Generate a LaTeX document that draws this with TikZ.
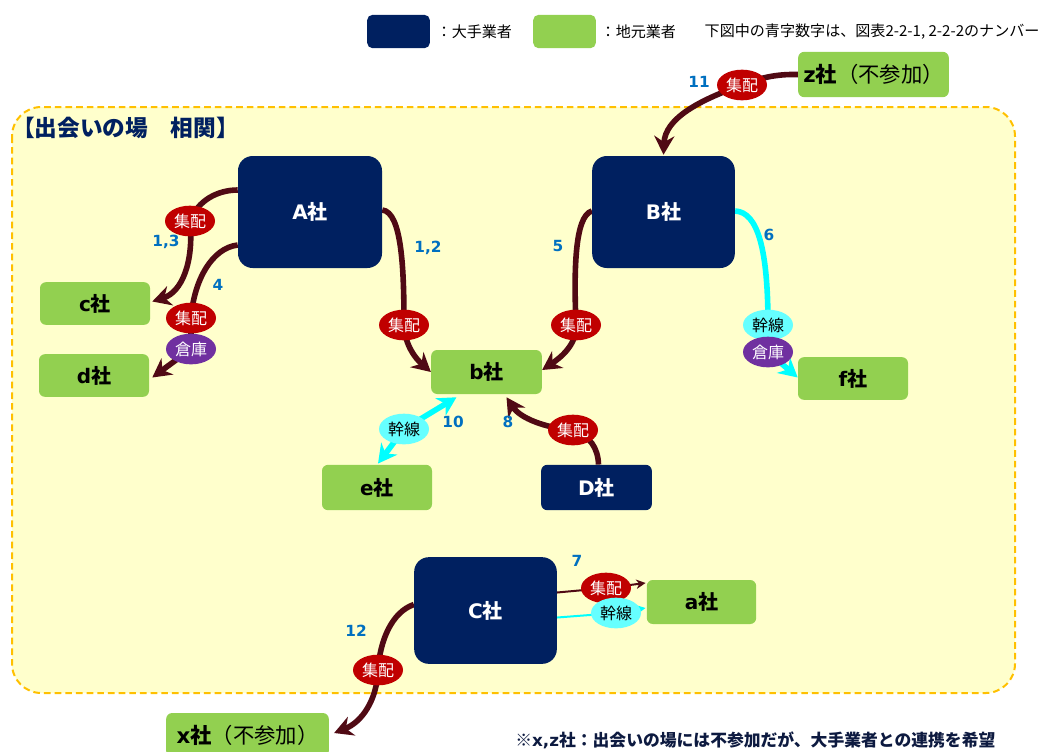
\documentclass[tikz,border=0pt]{standalone}
\usepackage{fontspec}
\setmainfont{Noto Sans CJK JP}
\newfontfamily\lat{DejaVu Sans}
\usetikzlibrary{arrows.meta,calc,shapes.geometric}
\pgfdeclarelayer{back}\pgfdeclarelayer{bg}\pgfsetlayers{back,bg,main}
\definecolor{navy}{HTML}{002060}
\definecolor{lgreen}{HTML}{92D050}
\definecolor{redE}{HTML}{C00000}
\definecolor{cyanE}{HTML}{66FFFF}
\definecolor{cyanL}{HTML}{00FFFF}
\definecolor{purpE}{HTML}{7030A0}
\definecolor{maroon}{HTML}{500A14}
\definecolor{numblue}{HTML}{0070C0}
\definecolor{yellowbg}{HTML}{FFFFCC}
\definecolor{orangeD}{HTML}{FFC000}
\definecolor{notec}{HTML}{0D1A40}
\tikzset{
  big/.style={fill=navy, rounded corners=11pt, text=white, inner sep=0pt,
    font=\bfseries\fontsize{15}{18}\selectfont},
  small/.style={fill=lgreen, rounded corners=4.5pt, text=black, inner sep=0pt,
    font=\bfseries\fontsize{15}{18}\selectfont},
  shu/.style={ellipse, fill=redE, minimum width=37.5pt, minimum height=23pt,
    inner sep=0pt, text=white, font=\fontsize{12}{14}\selectfont},
  kan/.style={shu, fill=cyanE, text=black},
  soko/.style={shu, fill=purpE, text=white},
  num/.style={text=numblue, font=\lat\bfseries\fontsize{11.5}{13}\selectfont},
  conn/.style={draw=maroon, line width=4.2pt,
    -{Stealth[length=14pt,width=15pt]}},
  cy/.style={draw=cyanL, line width=4.2pt, color=cyanL,
    -{Stealth[length=14pt,width=15pt]}},
  thinconn/.style={draw=maroon, line width=1.5pt,
    -{Stealth[length=7pt,width=7pt]}},
  thincy/.style={draw=cyanL, line width=1.5pt, color=cyanL,
    -{Stealth[length=7pt,width=7pt]}},
  legtext/.style={anchor=west, text=black, font=\fontsize{11.3}{13}\selectfont}
}
\begin{document}
\begin{tikzpicture}[x=0.75pt,y=-0.75pt]
\useasboundingbox (0,0) rectangle (1045,751);
\clip (0,0) rectangle (1045,751);

% legend
\node[fill=navy, rounded corners=4pt, minimum width=47pt, minimum height=25pt, inner sep=0pt] (legN) at (398.5,31.5) {};
\node[legtext] (legNt) at (432,31.5) {：大手業者};
\node[fill=lgreen, rounded corners=4pt, minimum width=47pt, minimum height=25pt, inner sep=0pt] (legG) at (564.5,31.5) {};
\node[legtext] (legGt) at (596,31.5) {：地元業者};
\node[legtext] (legNote) at (700,31.5) {下図中の青字数字は、図表2-2-1, 2-2-2のナンバー};

% area
\begin{pgfonlayer}{back}
\draw[draw=orangeD, fill=yellowbg, line width=1.5pt, dash pattern=on 5pt off 3pt, rounded corners=22pt] (12,107) rectangle (1015,693);
\end{pgfonlayer}
\node[anchor=west, text=navy, font=\bfseries\fontsize{17}{20}\selectfont, inner sep=0pt] (title) at (12,128) {【出会いの場　相関】};

% big companies
\node[big, minimum width=108pt, minimum height=84pt] (A) at (310,212) {{\lat A}社};
\node[big, minimum width=107pt, minimum height=84pt] (B) at (663.5,212) {{\lat B}社};
\node[big, minimum width=107pt, minimum height=80pt] (C) at (485.5,610.5) {{\lat C}社};
\node[big, rounded corners=4.5pt, minimum width=83pt, minimum height=34pt] (D) at (596.5,487.5) {{\lat D}社};

% local companies
\node[small, minimum width=82.5pt, minimum height=32pt] (c) at (95,303.5) {{\lat c}社};
\node[small, minimum width=82.5pt, minimum height=32pt] (d) at (94,375.5) {{\lat d}社};
\node[small, minimum width=83pt, minimum height=33pt] (b) at (486.5,372) {{\lat b}社};
\node[small, minimum width=82.5pt, minimum height=34pt] (e) at (377,487.5) {{\lat e}社};
\node[small, minimum width=82.5pt, minimum height=32pt] (f) at (853,378.5) {{\lat f}社};
\node[small, minimum width=82pt, minimum height=33pt] (a) at (701.5,602) {{\lat a}社};
\node[small, font=\bfseries\fontsize{16}{19}\selectfont, minimum width=113pt, minimum height=34pt] (z) at (873.5,74.5) {{\lat z}社\mdseries（不参加）};
\node[small, font=\bfseries\fontsize{16}{19}\selectfont, minimum width=122pt, minimum height=33pt] (x) at (247.5,735) {{\lat x}社\mdseries（不参加）};

% labels on connectors
\node[shu] (e1) at (190,221) {集配};
\node[shu] (e2) at (191,318) {集配};
\node[soko] (w1) at (191,349) {倉庫};
\node[shu] (e3) at (404,325) {集配};
\node[shu] (e4) at (576,325) {集配};
\node[kan] (t1) at (768,325) {幹線};
\node[soko] (w2) at (768,352) {倉庫};
\node[shu] (e5) at (573,430) {集配};
\node[kan] (t2) at (404,429) {幹線};
\node[shu] (e6) at (742,85) {集配};
\node[shu] (e7) at (606,588) {集配};
\node[kan] (t3) at (616,613) {幹線};
\node[shu] (e8) at (378,670) {集配};

% numbers
\node[num] (n13) at (166,242) {1,3};
\node[num] (n4) at (218,285) {4};
\node[num] (n12) at (428,248) {1,2};
\node[num] (n5) at (558,246) {5};
\node[num] (n6) at (769,235) {6};
\node[num] (n8) at (508,422) {8};
\node[num] (n10) at (453,422) {10};
\node[num] (n11) at (699,82) {11};
\node[num] (n7) at (577,561) {7};
\node[num] (n12b) at (356,631) {12};

% connectors
\begin{pgfonlayer}{bg}
\draw[conn] ($(A.west)+(0,-22)$) .. controls (218,190) and (198,200) .. (e1.center)
  .. controls (194,262) and (182,292) .. ($(c.east)+(2,-2)$);
\draw[conn] ($(A.west)+(0,33)$) .. controls (212,248) and (194,280) .. (e2.center)
  -- (w1.center) -- ($(d.east)+(3,2)$);
\draw[conn] ($(A.east)+(0,-2)$) .. controls (402,212) and (404,270) .. (e3.center)
  .. controls (405,345) and (415,358) .. (b.west);
\draw[conn] ($(B.west)+(0,-1)$) .. controls (574,216) and (574,275) .. (e4.center)
  .. controls (577,345) and (560,358) .. ($(b.east)+(0,-2)$);
\draw[cy] ($(B.east)+(0,-1)$) .. controls (758,212) and (768,250) .. (t1.center)
  -- (w2.center) -- ($(f.west)+(0,-1)$);
\draw[conn] ($(D.north)+(2,0)$) .. controls (598,448) and (590,436) .. (e5.center)
  .. controls (545,428) and (520,418) .. ($(b.south)+(20,3)$);
\draw[cy, {Stealth[length=14pt,width=15pt]}-{Stealth[length=14pt,width=15pt]}]
  ($(e.north)+(1,-1)$) -- (t2.center) -- ($(b.south)+(-30,3)$);
\draw[conn] (z.west) .. controls (775,74) and (760,78) .. (e6.center)
  .. controls (700,100) and (665,118) .. ($(B.north)+(0,-1)$);
\draw[thinconn] ($(C.east)+(0,-18)$) -- (e7.center) -- ($(a.west)+(-1,-19)$);
\draw[thincy] ($(C.east)+(0,7)$) -- (t3.center) -- ($(a.west)+(-1,6)$);
\draw[conn] ($(C.west)+(0,-6)$) .. controls (392,612) and (380,640) .. (e8.center)
  .. controls (377,700) and (362,722) .. ($(x.east)+(5,-2)$);
\end{pgfonlayer}

% bottom note
\node[anchor=west, text=notec, font=\bfseries\fontsize{12.6}{15}\selectfont, inner sep=0pt] (note) at (515,740) {※{\lat x,z}社：出会いの場には不参加だが、大手業者との連携を希望};
\end{tikzpicture}
\end{document}
